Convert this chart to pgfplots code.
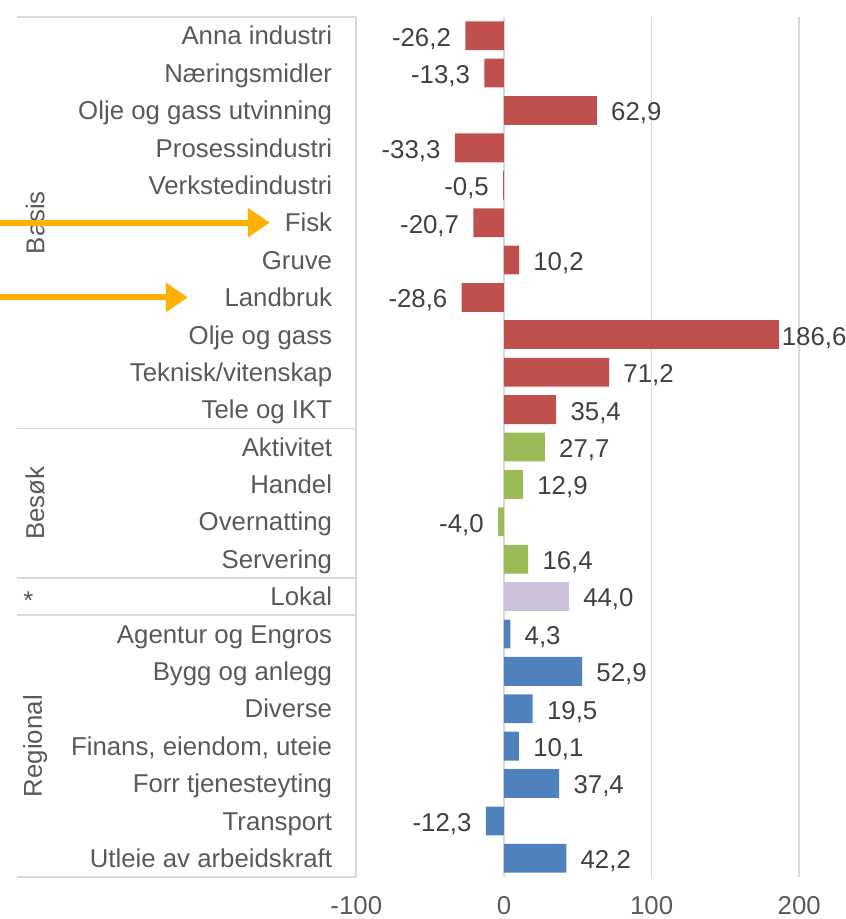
\documentclass[border=0pt]{standalone}
\usepackage{fontspec}
\setmainfont{Liberation Sans}
\usepackage{pgfplots}
\pgfplotsset{compat=1.18}
\usetikzlibrary{arrows.meta}
\definecolor{basis}{HTML}{C0504D}
\definecolor{besok}{HTML}{9BBB59}
\definecolor{lokal}{HTML}{CCC0DA}
\definecolor{regional}{HTML}{4F81BD}
\definecolor{gridgray}{HTML}{D9D9D9}
\definecolor{labelgray}{HTML}{595959}
\definecolor{valgray}{HTML}{404040}
\definecolor{arrowc}{HTML}{FFB000}
\newcommand{\lbl}{\fontsize{12.9}{15}\selectfont}

\begin{document}
\begin{tikzpicture}
\useasboundingbox (-178.15pt,-21pt) rectangle (244.35pt,438.5pt);
\begin{axis}[
    scale only axis, width=244.35pt, height=430pt,
    xmin=-100, xmax=231, ymin=-0.5, ymax=22.5, y dir=reverse,
    xbar, bar width=0.77, bar shift=0pt,
    xtick={-100,0,100,200}, ytick={0,...,22},
    yticklabels={Anna industri, Næringsmidler, Olje og gass utvinning, Prosessindustri,
        Verkstedindustri, Fisk, Gruve, Landbruk, Olje og gass, Teknisk/vitenskap,
        Tele og IKT, Aktivitet, Handel, Overnatting, Servering, Lokal,
        Agentur og Engros, Bygg og anlegg, Diverse, {Finans, eiendom, uteie},
        Forr tjenesteyting, Transport, Utleie av arbeidskraft},
    xmajorgrids, grid style={color=gridgray, line width=0.8pt},
    axis line style={draw=none}, major tick length=0pt,
    tick label style={font=\lbl, color=labelgray},
    yticklabel style={anchor=east, inner sep=0pt, xshift=-11.9pt,
        text height=9.2pt, text depth=0pt},
    xticklabel style={anchor=north, inner sep=0pt, yshift=-9.4pt},
    /pgf/number format/assume math mode=true,
    nodes near coords,
    nodes near coords style={font=\lbl, color=valgray, inner xsep=7pt, inner ysep=0pt,
        text height=9.2pt, text depth=0pt, yshift=-0.6pt,
        /pgf/number format/.cd, use comma, fixed, fixed zerofill, precision=1,
        assume math mode=true, /tikz/.cd},
    clip=false,
]
% Basis
\addplot[fill=basis, draw=none] coordinates {
    (-26.2,0) (-13.3,1) (62.9,2) (-33.3,3) (-0.5,4) (-20.7,5)
    (10.2,6) (-28.6,7) (71.2,9) (35.4,10)
};
\addplot[fill=basis, draw=none, nodes near coords style={inner xsep=1pt}] coordinates {
    (186.6,8)
};
% Besok
\addplot[fill=besok, draw=none] coordinates {
    (27.7,11) (12.9,12) (-4.0,13) (16.4,14)
};
% Lokal
\addplot[fill=lokal, draw=none] coordinates {
    (44.0,15)
};
% Regional
\addplot[fill=regional, draw=none] coordinates {
    (4.3,16) (52.9,17) (19.5,18) (10.1,19) (37.4,20) (-12.3,21) (42.2,22)
};

% group box
\pgfplotsinvokeforeach{-0.5,10.5,14.5,15.5,22.5}{
    \draw[gridgray, line width=0.8pt] ([xshift=-169.6pt]axis cs:-100,#1) -- (axis cs:-100,#1);
}
\node[rotate=90, font=\lbl, color=labelgray] at ([xshift=-160.6pt]axis cs:-100,5) {Basis};
\node[rotate=90, font=\lbl, color=labelgray] at ([xshift=-160.6pt]axis cs:-100,12.5) {Besøk};
\node[font=\lbl, color=labelgray] at ([xshift=-164pt]axis cs:-100,15.1) {*};
\node[rotate=90, font=\lbl, color=labelgray] at ([xshift=-160.6pt]axis cs:-100,19) {Regional};

% arrows
\draw[arrowc, line width=3pt, -{Triangle[length=11pt,width=14pt]}]
    ([xshift=-182pt]axis cs:-100,5) -- ([xshift=-43.2pt]axis cs:-100,5);
\draw[arrowc, line width=3pt, -{Triangle[length=11pt,width=14pt]}]
    ([xshift=-182pt]axis cs:-100,7) -- ([xshift=-84.2pt]axis cs:-100,7);
\end{axis}
\end{tikzpicture}
\end{document}
